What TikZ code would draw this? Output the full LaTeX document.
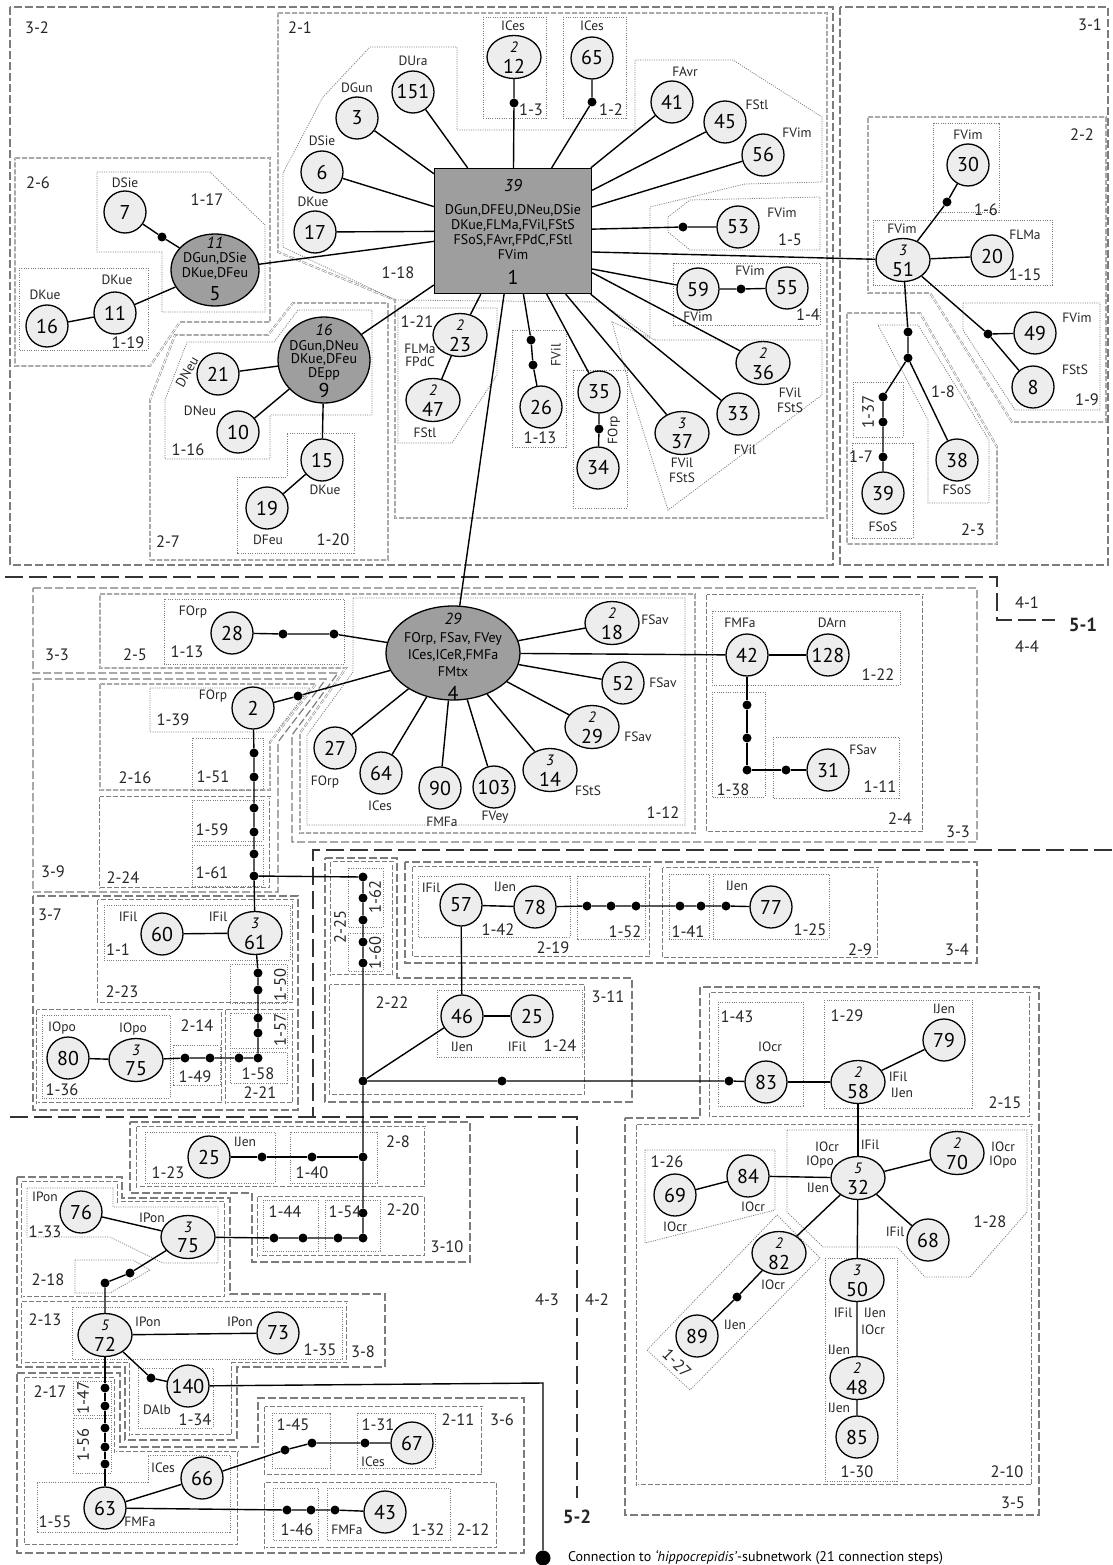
\documentclass[tikz,border=0pt]{standalone}
\usepackage{fontspec}
\setmainfont{PT Sans}
\usetikzlibrary{shapes.geometric,calc}
\definecolor{lightfill}{HTML}{EDEDED}
\definecolor{darkfill}{HTML}{9E9E9E}
\definecolor{regline}{HTML}{7C7C7C}
\newcommand\numf{\fontsize{20}{20}\selectfont}
\newcommand\labf{\fontsize{13.5}{14}\selectfont}
\newcommand\regf{\fontsize{16.5}{16}\selectfont}
\newcommand\smit{\fontsize{15}{15}\selectfont\itshape}
\newcommand\mycirc[3]{\node[circ] (#1) at (#2) {#3};}
\newcommand\myell[4]{\node[ell] (#1) at (#2) {};\node[font=\smit,inner sep=0pt] (#1s) at ([yshift=10pt]#1.center) {#3};\node[font=\numf,inner sep=0pt] (#1b) at ([yshift=-9pt]#1.center) {#4};}
\newcommand\lab[3]{\node[lab] (#1) at (#2) {#3};}
\newcommand\reg[3]{\node[reg] (#1) at (#2) {#3};}
\newcommand\dt[2]{\node[dot] (#1) at (#2) {};}
\tikzset{
 circ/.style={circle,draw,fill=lightfill,minimum size=42pt,inner sep=0pt,line width=1.3pt,font=\numf},
 ell/.style={ellipse,draw,fill=lightfill,minimum width=54pt,minimum height=43pt,inner sep=0pt,line width=1.3pt},
 bigell/.style={ellipse,draw,fill=darkfill,inner sep=0pt,line width=1.3pt},
 bigrect/.style={rectangle,draw,fill=darkfill,minimum width=157pt,minimum height=125pt,line width=1.3pt},
 dot/.style={circle,fill=black,inner sep=0pt,minimum size=9pt},
 bigdot/.style={circle,fill=black,inner sep=0pt,minimum size=15pt},
 lab/.style={font=\labf,inner sep=0pt,text=black!85},
 reg/.style={font=\regf,inner sep=0pt,text=black!85},
 conn/.style={line width=1.4pt,black},
 lvthree/.style={draw=regline,line width=1.2pt,dash pattern=on 8pt off 3pt},
 lvtwo/.style={draw=regline,line width=0.5pt,double=white,double distance=0.9pt,dash pattern=on 5pt off 2pt},
 lvone/.style={draw=regline,line width=0.8pt,dash pattern=on 1pt off 1.3pt},
 lvfour/.style={draw=black!80,line width=2.6pt,dash pattern=on 18pt off 6pt}
}
\begin{document}
\begin{tikzpicture}[x=1pt,y=-1pt]
\fill[white] (0,0) rectangle (1112,1565);
\useasboundingbox (0,0) rectangle (1112,1565);

% ---------------- level 3 regions
\draw[lvthree] (10,7) rectangle (833,565);
\draw[lvthree] (840,7) rectangle (1108,565);
\draw[lvthree] (33,588) -- (977,588) -- (977,842) -- (292,842) -- (292,735) -- (338,673) -- (33,673) -- cycle;
\draw[lvthree] (33,679) -- (326,679) -- (278,742) -- (278,892) -- (33,892) -- cycle;
\draw[lvthree] (33,896) rectangle (298,1110);
\draw[lvthree] (325,858) -- (397,858) -- (397,978) -- (632,978) -- (632,1102) -- (325,1102) -- cycle;
\draw[lvthree] (405,862) rectangle (977,963);
\draw[lvthree] (625,1118) -- (700,1118) -- (700,987) -- (1039,987) -- (1039,1515) -- (625,1515) -- cycle;
\draw[lvthree] (130,1122) -- (470,1122) -- (470,1262) -- (252,1262) -- (252,1193) -- (130,1193) -- cycle;
\draw[lvthree] (17,1177) -- (122,1177) -- (122,1198) -- (230,1198) -- (230,1294) -- (385,1294) -- (385,1367) -- (237,1367) -- (237,1440) -- (125,1440) -- (125,1367) -- (17,1367) -- cycle;
\draw[lvthree] (17,1373) -- (120,1373) -- (120,1447) -- (258,1447) -- (258,1398) -- (524,1398) -- (524,1553) -- (17,1553) -- cycle;

% ---------------- level 2 regions
\draw[lvtwo] (278,13) -- (827,13) -- (827,518) -- (395,518) -- (395,300) -- (278,252) -- cycle;
\draw[lvtwo] (15,158) -- (270,158) -- (270,322) -- (180,322) -- (150,366) -- (15,366) -- cycle;
\draw[lvtwo] (150,560) -- (388,560) -- (388,303) -- (293,303) -- (268,335) -- (175,335) -- (150,400) -- cycle;
\draw[lvtwo] (868,117) -- (1106,117) -- (1106,422) -- (1012,422) -- (930,293) -- (868,293) -- cycle;
\draw[lvtwo] (847,313) -- (920,313) -- (997,447) -- (997,544) -- (847,544) -- cycle;
\draw[lvtwo] (100,594) -- (695,594) -- (695,833) -- (300,833) -- (300,733) -- (346,668) -- (100,668) -- cycle;
\draw[lvtwo] (707,595) rectangle (923,832);
\draw[lvtwo] (100,684) -- (316,684) -- (270,742) -- (270,790) -- (100,790) -- cycle;
\draw[lvtwo] (100,797) rectangle (270,888);
\draw[lvtwo] (98,900) rectangle (293,1003);
\draw[lvtwo] (37,1010) rectangle (222,1103);
\draw[lvtwo] (226,1010) rectangle (293,1103);
\draw[lvtwo] (331,862) rectangle (393,975);
\draw[lvtwo] (330,985) rectangle (585,1095);
\draw[lvtwo] (413,867) rectangle (650,957);
\draw[lvtwo] (663,868) rectangle (878,958);
\draw[lvtwo] (710,993) rectangle (1030,1117);
\draw[lvtwo] (637,1125) rectangle (1032,1485);
\draw[lvtwo] (137,1127) rectangle (425,1187);
\draw[lvtwo] (258,1197) rectangle (425,1256);
\draw[lvtwo] (22,1182) -- (118,1182) -- (118,1202) -- (225,1202) -- (225,1297) -- (22,1297) -- cycle;
\draw[lvtwo] (22,1302) -- (347,1302) -- (347,1363) -- (232,1363) -- (232,1435) -- (130,1435) -- (130,1363) -- (22,1363) -- cycle;
\draw[lvtwo] (25,1378) -- (115,1378) -- (115,1452) -- (238,1452) -- (238,1545) -- (25,1545) -- cycle;
\draw[lvtwo] (265,1407) rectangle (482,1475);
\draw[lvtwo] (265,1483) rectangle (497,1548);

% ---------------- level 1 regions
\draw[lvone] (97,172) -- (210,172) -- (265,225) -- (265,312) -- (162,312) -- (162,252) -- (97,252) -- cycle;
\draw[lvone] (19,268) rectangle (148,350);
\draw[lvone] (165,459) -- (270,459) -- (270,415) -- (372,415) -- (372,310) -- (298,310) -- (274,342) -- (187,342) -- (165,400) -- cycle;
\draw[lvone] (237,477) -- (287,477) -- (287,433) -- (354,433) -- (354,553) -- (237,553) -- cycle;
\draw[lvone] (483,17) rectangle (546,118);
\draw[lvone] (563,17) rectangle (626,118);
\draw[lvone] (370,47) -- (457,47) -- (457,130) -- (635,130) -- (635,60) -- (733,60) -- (822,117) -- (822,182) -- (745,184) -- (650,207) -- (650,337) -- (600,302) -- (395,300) -- (283,247) -- (283,173) -- (323,97) -- cycle;
\draw[lvone] (668,217) -- (690,200) -- (820,197) -- (820,250) -- (690,250) -- (668,232) -- cycle;
\draw[lvone] (673,263) rectangle (820,325);
\draw[lvone] (655,340) -- (822,340) -- (822,395) -- (668,510) -- (632,395) -- (612,322) -- cycle;
\draw[lvone] (573,370) rectangle (627,508);
\draw[lvone] (512,330) rectangle (566,447);
\draw[lvone] (398,308) -- (497,308) -- (497,375) -- (452,443) -- (398,443) -- cycle;
\draw[lvone] (933,123) rectangle (999,212);
\draw[lvone] (873,220) rectangle (1052,285);
\draw[lvone] (963,303) -- (1100,303) -- (1100,410) -- (1015,410) -- (963,330) -- cycle;
\draw[lvone] (878,325) -- (918,325) -- (989,440) -- (989,503) -- (928,503) -- (928,420) -- cycle;
\draw[lvone] (853,382) rectangle (903,437);
\draw[lvone] (852,443) rectangle (913,538);
\draw[lvone] (164,599) rectangle (344,664);
\draw[lvone] (353,598) -- (685,598) -- (685,825) -- (307,825) -- (307,735) -- (353,672) -- cycle;
\draw[lvone] (712,611) rectangle (900,685);
\draw[lvone] (712,692) rectangle (765,797);
\draw[lvone] (773,737) rectangle (899,798);
\draw[lvone] (150,688) -- (310,688) -- (276,732) -- (150,732) -- cycle;
\draw[lvone] (192,738) rectangle (263,790);
\draw[lvone] (192,800) rectangle (263,841);
\draw[lvone] (192,845) rectangle (263,886);
\draw[lvone] (104,905) rectangle (290,960);
\draw[lvone] (230,964) rectangle (287,1003);
\draw[lvone] (42,1015) rectangle (170,1098);
\draw[lvone] (173,1045) rectangle (220,1085);
\draw[lvone] (230,1013) rectangle (287,1048);
\draw[lvone] (230,1052) rectangle (287,1083);
\draw[lvone] (348,868) rectangle (383,927);
\draw[lvone] (348,933) rectangle (383,971);
\draw[lvone] (437,990) rectangle (582,1057);
\draw[lvone] (418,876) rectangle (570,937);
\draw[lvone] (577,876) rectangle (645,939);
\draw[lvone] (669,874) rectangle (709,939);
\draw[lvone] (713,874) rectangle (829,939);
\draw[lvone] (718,1002) rectangle (803,1106);
\draw[lvone] (824,1000) rectangle (972,1108);
\draw[lvone] (787,1130) -- (1027,1130) -- (1027,1212) -- (970,1277) -- (925,1277) -- (897,1247) -- (823,1247) -- (787,1212) -- cycle;
\draw[lvone] (645,1150) -- (775,1150) -- (775,1210) -- (645,1243) -- cycle;
\draw[lvone] (777,1215) -- (820,1258) -- (690,1390) -- (647,1350) -- cycle;
\draw[lvone] (825,1258) rectangle (897,1481);
\draw[lvone] (145,1132) rectangle (275,1183);
\draw[lvone] (290,1132) rectangle (377,1183);
\draw[lvone] (263,1200) rectangle (318,1251);
\draw[lvone] (325,1200) rectangle (380,1251);
\draw[lvone] (27,1188) -- (113,1188) -- (113,1207) -- (218,1207) -- (218,1263) -- (163,1263) -- (110,1237) -- (27,1237) -- cycle;
\draw[lvone] (75,1260) -- (133,1260) -- (150,1270) -- (110,1293) -- (75,1293) -- cycle;
\draw[lvone] (72,1307) rectangle (342,1359);
\draw[lvone] (138,1368) rectangle (213,1428);
\draw[lvone] (73,1381) rectangle (111,1415);
\draw[lvone] (73,1418) rectangle (111,1473);
\draw[lvone] (37,1482) -- (148,1482) -- (148,1455) -- (230,1455) -- (230,1532) -- (37,1532) -- cycle;
\draw[lvone] (272,1413) rectangle (330,1468);
\draw[lvone] (357,1413) rectangle (435,1468);
\draw[lvone] (273,1488) rectangle (318,1540);
\draw[lvone] (327,1488) rectangle (450,1540);

% ---------------- level 4 dividers
\draw[lvfour] (5,577) -- (997,577) -- (997,620) -- (1055,620);
\draw[lvfour] (1112,850) -- (313,850) -- (313,1117);
\draw[lvfour] (10,1117) -- (577,1117) -- (577,1498);

% ---------------- nodes: top
\node[bigrect] (n1) at (513,231) {};
\node[font=\fontsize{17}{17}\selectfont\itshape,inner sep=0pt] (n1a) at (513,186) {39};
\node[font=\fontsize{14}{15}\selectfont,align=center,inner sep=0pt] (n1b) at (513,232) {DGun,DFEU,DNeu,DSie\\DKue,FLMa,FVil,FStS\\FSoS,FAvr,FPdC,FStl\\FVim};
\node[font=\numf,inner sep=0pt] (n1c) at (513,277) {1};

\node[bigell,minimum width=88pt,minimum height=72pt] (n5) at (215,270) {};
\node[font=\fontsize{16}{16}\selectfont\itshape,inner sep=0pt] (n5a) at (215,243) {11};
\node[font=\fontsize{14}{15}\selectfont,align=center,inner sep=0pt] (n5b) at (215,266) {DGun,DSie\\DKue,DFeu};
\node[font=\numf,inner sep=0pt] (n5c) at (215,294) {5};

\node[bigell,minimum width=92pt,minimum height=86pt] (n9) at (324,360) {};
\node[font=\fontsize{16}{16}\selectfont\itshape,inner sep=0pt] (n9a) at (324,330) {16};
\node[font=\fontsize{14}{13.5}\selectfont,align=center,inner sep=0pt] (n9b) at (324,360) {DGun,DNeu\\DKue,DFeu\\DEpp};
\node[font=\numf,inner sep=0pt] (n9c) at (324,390) {9};

\mycirc{n3}{357,118}{3}
\mycirc{n6}{322,172}{6}
\mycirc{n17}{315,232}{17}
\mycirc{n151}{413,92}{151}
\myell{n12}{514,57}{2}{12}
\mycirc{n65}{592,58}{65}
\mycirc{n41}{672,102}{41}
\mycirc{n45}{725,122}{45}
\mycirc{n56}{763,155}{56}
\mycirc{n53}{738,227}{53}
\mycirc{n59}{698,289}{59}
\mycirc{n55}{787,288}{55}
\myell{n36}{763,363}{2}{36}
\mycirc{n33}{738,414}{33}
\myell{n37}{682,433}{3}{37}
\mycirc{n35}{599,392}{35}
\mycirc{n34}{598,468}{34}
\mycirc{n26}{541,407}{26}
\myell{n23}{460,335}{2}{23}
\myell{n47}{433,400}{2}{47}
\mycirc{n7}{125,212}{7}
\mycirc{n11}{115,313}{11}
\mycirc{n16}{47,326}{16}
\mycirc{n21}{218,374}{21}
\mycirc{n10}{238,432}{10}
\mycirc{n15}{322,460}{15}
\mycirc{n19}{267,508}{19}
\myell{n51}{903,260}{3}{51}
\mycirc{n30}{968,165}{30}
\mycirc{n20}{992,256}{20}
\mycirc{n49}{1035,333}{49}
\mycirc{n8}{1033,387}{8}
\mycirc{n38}{957,460}{38}
\mycirc{n39}{883,493}{39}

\dt{d12}{514,103} \dt{d65}{592,102} \dt{d53}{683,227} \dt{d55}{741,289}
\dt{d35}{599,429} \dt{d26a}{531,340} \dt{d26b}{533,365} \dt{d7}{162,237}
\dt{d30}{947,202} \dt{d49}{988,334} \dt{d51a}{908,332} \dt{d51b}{908,358}
\dt{d39a}{883,397} \dt{d39b}{883,422} \dt{d39c}{883,457}

% ---------------- nodes: middle
\node[bigell,minimum width=134pt,minimum height=94pt] (n4) at (453,653) {};
\node[font=\fontsize{16}{16}\selectfont\itshape,inner sep=0pt] (n4a) at (453,619) {29};
\node[font=\fontsize{14}{17}\selectfont,align=center,inner sep=0pt] (n4b) at (453,655) {FOrp, FSav, FVey\\ICes,ICeR,FMFa\\FMtx};
\node[font=\numf,inner sep=0pt] (n4c) at (453,693) {4};

\mycirc{n28}{232,633}{28}
\mycirc{n2}{253,708}{2}
\mycirc{n27}{335,748}{27}
\mycirc{n64}{381,773}{64}
\mycirc{n90}{440,788}{90}
\mycirc{n103}{494,787}{103}
\myell{n14}{550,770}{3}{14}
\myell{n29}{592,727}{2}{29}
\mycirc{n52}{623,683}{52}
\myell{n18}{612,623}{2}{18}
\mycirc{n42}{747,655}{42}
\mycirc{n128}{828,655}{128}
\mycirc{n31}{828,770}{31}
\myell{n61}{255,933}{3}{61}
\mycirc{n60}{162,934}{60}
\myell{n75a}{136,1060}{3}{75}
\mycirc{n80}{68,1058}{80}
\mycirc{n57}{461,905}{57}
\mycirc{n78}{535,907}{78}
\mycirc{n77}{771,907}{77}
\mycirc{n46}{462,1016}{46}
\mycirc{n25a}{532,1016}{25}

\dt{d28a}{283,634} \dt{d28b}{334,634} \dt{d2}{298,696}
\dt{d42a}{747,705} \dt{d42b}{747,738} \dt{d42c}{747,770} \dt{d31}{786,770}
\dt{e1}{254,753} \dt{e2}{254,777} \dt{e3}{254,808} \dt{e4}{254,832} \dt{e5}{254,854} \dt{e6}{254,876}
\dt{g0}{363,877} \dt{g1}{363,898} \dt{g2}{363,920} \dt{g3}{363,942} \dt{g4}{363,963}
\dt{g5}{363,1081} \dt{g6}{363,1157} \dt{g7}{363,1213} \dt{g8}{363,1238}
\dt{f1}{258,973} \dt{f2}{258,990} \dt{f3}{258,1018} \dt{f4}{258,1033} \dt{f5}{258,1058}
\dt{f6}{239,1058} \dt{f7}{210,1058} \dt{f8}{185,1058}
\dt{h1}{587,906} \dt{h2}{611,906} \dt{h3}{636,906} \dt{h4}{680,906} \dt{h5}{701,906} \dt{h6}{726,906}
\dt{k1}{502,1081} \dt{k2}{729,1081}

% ---------------- nodes: right
\mycirc{n83}{766,1082}{83}
\myell{n58}{858,1082}{2}{58}
\mycirc{n79}{944,1040}{79}
\myell{n32}{858,1178}{5}{32}
\myell{n70}{957,1153}{2}{70}
\mycirc{n68}{928,1240}{68}
\mycirc{n84}{748,1176}{84}
\mycirc{n69}{675,1195}{69}
\myell{n82}{779,1253}{2}{82}
\mycirc{n89}{697,1336}{89}
\myell{n50}{857,1280}{3}{50}
\myell{n48}{857,1378}{2}{48}
\mycirc{n85}{857,1437}{85}
\dt{d89}{737,1297}

% ---------------- nodes: bottom left
\mycirc{n25b}{209,1157}{25}
\myell{n75b}{188,1237}{3}{75}
\mycirc{n76}{81,1212}{76}
\myell{n72}{105,1335}{5}{72}
\mycirc{n73}{278,1333}{73}
\mycirc{n140}{188,1386}{140}
\mycirc{n63}{105,1508}{63}
\mycirc{n66}{202,1478}{66}
\mycirc{n67}{412,1443}{67}
\mycirc{n43}{385,1512}{43}
\dt{m1}{312,1157} \dt{m2}{262,1157} \dt{m3}{338,1238} \dt{m4}{303,1238} \dt{m5}{274,1238}
\dt{m6}{130,1273} \dt{m7}{105,1283} \dt{m8}{151,1378}
\dt{p1}{105,1388} \dt{p2}{105,1406} \dt{p3}{105,1428} \dt{p4}{105,1447} \dt{p5}{105,1464}
\dt{q1}{285,1450} \dt{q2}{312,1443} \dt{q3}{365,1443}
\dt{r1}{287,1510} \dt{r2}{311,1510} \dt{r3}{335,1510}
\coordinate (c140) at (543,1383);
\node[bigdot] (zend) at (543,1558) {};

% ---------------- connectors: top
\draw[conn] (n1) -- (n3);
\draw[conn] (n1) -- (n6);
\draw[conn] (n1) -- (n17);
\draw[conn] (n1) -- (n151);
\draw[conn] (n1) -- (d12) -- (n12);
\draw[conn] (n1) -- (d65) -- (n65);
\draw[conn] (n1) -- (n41);
\draw[conn] (n1) -- (n45);
\draw[conn] (n1) -- (n56);
\draw[conn] (n1) -- (d53) -- (n53);
\draw[conn] ([yshift=-21pt]n1.east) -- (n51);
\draw[conn] ([yshift=-38pt]n1.east) -- (n59);
\draw[conn] (n59) -- (d55) -- (n55);
\draw[conn] (n1) -- (n36);
\draw[conn] (n1) -- (n33);
\draw[conn] (n1) -- (n37);
\draw[conn] (n1) -- (n35);
\draw[conn] (n35) -- (d35) -- (n34);
\draw[conn] (n1) -- (d26a) -- (d26b) -- (n26);
\draw[conn] (n1) -- (n23);
\draw[conn] (n23) -- (n47);
\draw[conn] (n1) -- (n5);
\draw[conn] (n1) -- (n9);
\draw[conn] (n1) -- (n4);
\draw[conn] (n5) -- (d7) -- (n7);
\draw[conn] (n5) -- (n11) -- (n16);
\draw[conn] (n9) -- (n21);
\draw[conn] (n9) -- (n10);
\draw[conn] (n9) -- (n15) -- (n19);
\draw[conn] (n51) -- (d30) -- (n30);
\draw[conn] (n51) -- (n20);
\draw[conn] (n51) -- (d49) -- (n8);
\draw[conn] (d49) -- (n49);
\draw[conn] (n51) -- (d51a) -- (d51b) -- (d39a) -- (d39b) -- (d39c) -- (n39);
\draw[conn] (d51b) -- (n38);

% ---------------- connectors: middle
\draw[conn] (n4) -- (d28b) -- (d28a) -- (n28);
\draw[conn] (n4) -- (d2) -- (n2);
\draw[conn] (n4) -- (n27);
\draw[conn] (n4) -- (n64);
\draw[conn] (n4) -- (n90);
\draw[conn] (n4) -- (n103);
\draw[conn] (n4) -- (n14);
\draw[conn] (n4) -- (n29);
\draw[conn] (n4) -- (n52);
\draw[conn] (n4) -- (n18);
\draw[conn] (n4) -- (n42);
\draw[conn] (n42) -- (n128);
\draw[conn] (n42) -- (d42a) -- (d42b) -- (d42c) -- (d31) -- (n31);
\draw[conn] (n2) -- (e1) -- (e2) -- (e3) -- (e4) -- (e5) -- (e6) -- (n61);
\draw[conn] (e6) -- (g0) -- (g1) -- (g2) -- (g3) -- (g4) -- (g5) -- (g6) -- (g7) -- (g8);
\draw[conn] (n61) -- (n60);
\draw[conn] (n61) -- (f1) -- (f2) -- (f3) -- (f4) -- (f5) -- (f6) -- (f7) -- (f8) -- (n75a);
\draw[conn] (n75a) -- (n80);
\draw[conn] (g5) -- (n46);
\draw[conn] (n46) -- (n57);
\draw[conn] (n46) -- (n25a);
\draw[conn] (n57) -- (n78) -- (h1) -- (h2) -- (h3) -- (h4) -- (h5) -- (h6) -- (n77);
\draw[conn] (g5) -- (k1) -- (k2) -- (n83);

% ---------------- connectors: right
\draw[conn] (n83) -- (n58);
\draw[conn] (n58) -- (n79);
\draw[conn] (n58) -- (n32);
\draw[conn] (n32) -- (n70);
\draw[conn] (n32) -- (n68);
\draw[conn] (n32) -- (n84) -- (n69);
\draw[conn] (n32) -- (n82) -- (d89) -- (n89);
\draw[conn] (n32) -- (n50) -- (n48) -- (n85);

% ---------------- connectors: bottom left
\draw[conn] (g6) -- (m1) -- (m2) -- (n25b);
\draw[conn] (g8) -- (m3) -- (m4) -- (m5) -- (n75b);
\draw[conn] (n75b) -- (n76);
\draw[conn] (n75b) -- (m6) -- (m7) -- (n72);
\draw[conn] (n72) -- (n73);
\draw[conn] (n72) -- (m8) -- (n140);
\draw[conn] (n72) -- (p1) -- (p2) -- (p3) -- (p4) -- (p5) -- (n63);
\draw[conn] (n63) -- (n66) -- (q1) -- (q2) -- (q3) -- (n67);
\draw[conn] (n63) -- (r1) -- (r2) -- (r3) -- (n43);
\draw[conn] (n140) -- (c140) -- (zend);

% ---------------- labels: top
\reg{ra1}{37,28}{3-2} \reg{ra2}{300,28}{2-1} \reg{ra3}{38,183}{2-6} \reg{ra4}{207,200}{1-17}
\reg{ra5}{128,343}{1-19} \reg{ra6}{188,450}{1-16} \reg{ra7}{333,540}{1-20} \reg{ra8}{168,542}{2-7}
\reg{ra9}{398,273}{1-18} \reg{ra10}{531,110}{1-3} \reg{ra11}{611,110}{1-2} \reg{ra12}{790,240}{1-5}
\reg{ra13}{808,315}{1-4} \reg{ra14}{417,322}{1-21} \reg{ra15}{540,438}{1-13} \reg{ra16}{1090,25}{3-1}
\reg{ra17}{1082,135}{2-2} \reg{ra18}{986,210}{1-6} \reg{ra19}{1025,275}{1-15} \reg{ra20}{1087,400}{1-9}
\reg{ra21}{943,392}{1-8} \reg{ra22}{861,457}{1-7} \node[reg,rotate=90] (ra23) at (868,412) {1-37};
\reg{ra24}{973,530}{2-3}

\lab{la1}{357,88}{DGun} \lab{la2}{322,141}{DSie} \lab{la3}{313,202}{DKue} \lab{la4}{413,61}{DUra}
\lab{la5}{513,26}{ICes} \lab{la6}{592,26}{ICes} \lab{la7}{685,72}{FAvr} \lab{la8}{757,105}{FStl}
\lab{la9}{797,133}{FVim} \lab{la10}{782,213}{FVim} \lab{la11}{750,271}{FVim} \lab{la12}{698,317}{FVim}
\lab{la13}{790,393}{FVil} \lab{la14}{790,408}{FStS} \lab{la15}{745,450}{FVil} \lab{la16}{682,463}{FVil}
\lab{la17}{682,478}{FStS} \node[lab,rotate=90] (la18) at (614,430) {FOrp};
\node[lab,rotate=90] (la19) at (556,355) {FVil}; \lab{la20}{420,349}{FLMa} \lab{la21}{420,362}{FPdC}
\lab{la22}{425,433}{FStl} \lab{la23}{125,183}{DSie} \lab{la24}{117,280}{DKue} \lab{la25}{45,295}{DKue}
\node[lab,rotate=60] (la26) at (187,372) {DNeu}; \lab{la27}{200,411}{DNeu} \lab{la28}{325,490}{DKue}
\lab{la29}{268,540}{DFeu} \lab{la30}{902,229}{FVim} \lab{la31}{968,135}{FVim} \lab{la32}{1025,235}{FLMa}
\lab{la33}{1077,318}{FVim} \lab{la34}{1075,370}{FStS} \lab{la35}{957,490}{FSoS} \lab{la36}{883,527}{FSoS}

% ---------------- labels: middle
\reg{rb1}{57,655}{3-3} \reg{rb2}{135,655}{2-5} \reg{rb3}{187,652}{1-13} \reg{rb4}{173,720}{1-39}
\reg{rb5}{135,778}{2-16} \reg{rb6}{213,777}{1-51} \reg{rb7}{663,813}{1-12} \reg{rb8}{878,675}{1-22}
\reg{rb9}{733,790}{1-38} \reg{rb10}{880,787}{1-11} \reg{rb11}{900,819}{2-4} \reg{rb12}{958,832}{3-3}
\reg{rb13}{1027,603}{4-1} \reg{rb14}{1027,647}{4-4}
\node[reg,font=\fontsize{19}{19}\selectfont\bfseries] (rb15) at (1083,625) {5-1};
\reg{rb16}{53,872}{3-9} \reg{rb17}{123,878}{2-24} \reg{rb18}{212,830}{1-59} \reg{rb19}{212,873}{1-61}
\reg{rb20}{50,915}{3-7} \reg{rb21}{118,950}{1-1} \reg{rb22}{122,992}{2-23}
\node[reg,rotate=90] (rb23) at (280,985) {1-50}; \node[reg,rotate=90] (rb24) at (280,1030) {1-57};
\reg{rb25}{258,1074}{1-58} \reg{rb26}{260,1093}{2-21} \reg{rb27}{197,1026}{2-14} \reg{rb28}{62,1090}{1-36}
\reg{rb29}{195,1077}{1-49} \node[reg,rotate=90] (rb30) at (340,927) {2-25};
\node[reg,rotate=90] (rb31) at (375,897) {1-62}; \node[reg,rotate=90] (rb32) at (375,953) {1-60};
\reg{rb33}{498,930}{1-42} \reg{rb34}{553,948}{2-19} \reg{rb35}{625,932}{1-52} \reg{rb36}{688,932}{1-41}
\reg{rb37}{810,930}{1-25} \reg{rb38}{860,950}{2-9} \reg{rb39}{957,950}{3-4} \reg{rb40}{392,1003}{2-22}
\reg{rb41}{560,1046}{1-24} \reg{rb42}{608,997}{3-11}

\lab{lb1}{193,612}{FOrp} \lab{lb2}{213,696}{FOrp} \lab{lb3}{325,782}{FOrp} \lab{lb4}{380,806}{ICes}
\lab{lb5}{442,822}{FMFa} \lab{lb6}{495,817}{FVey} \lab{lb7}{588,791}{FStS} \lab{lb8}{638,737}{FSav}
\lab{lb9}{663,683}{FSav} \lab{lb10}{655,620}{FSav} \lab{lb11}{740,623}{FMFa} \lab{lb12}{832,623}{DArn}
\lab{lb13}{863,750}{FSav} \lab{lb14}{218,917}{IFil} \lab{lb15}{128,917}{IFil} \lab{lb16}{133,1029}{IOpo}
\lab{lb17}{62,1028}{IOpo} \lab{lb18}{431,888}{IFil} \lab{lb19}{505,887}{IJen} \lab{lb20}{737,886}{IJen}
\lab{lb21}{462,1047}{IJen} \lab{lb22}{517,1047}{IFil}

% ---------------- labels: right
\reg{rc1}{737,1017}{1-43} \reg{rc2}{847,1016}{1-29} \reg{rc3}{1005,1103}{2-15} \reg{rc4}{667,1162}{1-26}
\reg{rc5}{990,1222}{1-28} \node[reg,rotate=-45] (rc6) at (677,1363) {1-27};
\reg{rc7}{857,1472}{1-30} \reg{rc8}{1007,1472}{2-10} \reg{rc9}{1013,1503}{3-5}
\reg{rc10}{547,1300}{4-3} \reg{rc11}{597,1300}{4-2}
\node[reg,font=\fontsize{19}{19}\selectfont\bfseries] (rc12) at (577,1517) {5-2};

\lab{lc1}{770,1047}{IOcr} \lab{lc2}{898,1077}{IFil} \lab{lc3}{902,1093}{IJen} \lab{lc4}{944,1009}{IJen}
\lab{lc5}{827,1147}{IOcr} \lab{lc6}{820,1162}{IOpo} \lab{lc7}{870,1145}{IFil} \lab{lc8}{818,1188}{IJen}
\lab{lc9}{1003,1147}{IOcr} \lab{lc10}{1003,1162}{IOpo} \lab{lc11}{895,1232}{IFil} \lab{lc12}{753,1207}{IOcr}
\lab{lc13}{675,1227}{IOcr} \lab{lc14}{773,1285}{IOcr} \lab{lc15}{735,1325}{IJen} \lab{lc16}{843,1313}{IFil}
\lab{lc17}{875,1313}{IJen} \lab{lc18}{873,1330}{IOcr} \lab{lc19}{839,1350}{IJen} \lab{lc20}{839,1408}{IJen}

% ---------------- labels: bottom left
\reg{rd1}{398,1142}{2-8} \reg{rd2}{168,1173}{1-23} \reg{rd3}{312,1173}{1-40} \reg{rd4}{285,1212}{1-44}
\reg{rd5}{345,1212}{1-54} \reg{rd6}{403,1210}{2-20} \reg{rd7}{447,1247}{3-10} \reg{rd8}{45,1232}{1-33}
\reg{rd9}{48,1280}{2-18} \reg{rd10}{45,1320}{2-13} \reg{rd11}{320,1350}{1-35} \reg{rd12}{363,1352}{3-8}
\reg{rd13}{195,1420}{1-34} \reg{rd14}{50,1392}{2-17} \node[reg,rotate=90] (rd15) at (83,1398) {1-47};
\node[reg,rotate=90] (rd16) at (83,1445) {1-56}; \reg{rd17}{55,1522}{1-55} \reg{rd18}{293,1425}{1-45}
\reg{rd19}{378,1425}{1-31} \reg{rd20}{458,1420}{2-11} \reg{rd21}{502,1420}{3-6} \reg{rd22}{297,1530}{1-46}
\reg{rd23}{428,1530}{1-32} \reg{rd24}{473,1530}{2-12}

\lab{ld1}{245,1142}{IJen} \lab{ld2}{45,1197}{IPon} \lab{ld3}{152,1218}{IPon} \lab{ld4}{148,1322}{IPon}
\lab{ld5}{240,1322}{IPon} \lab{ld6}{157,1410}{DAlb} \lab{ld7}{163,1468}{ICes} \lab{ld8}{373,1462}{ICes}
\lab{ld9}{140,1522}{FMFa} \lab{ld10}{347,1530}{FMFa}

\node[font=\fontsize{14}{14}\selectfont,anchor=west,inner sep=0pt] (caption) at (568,1558) {Connection to \textit{‘hippocrepidis’}-subnetwork (21 connection steps)};
\end{tikzpicture}
\end{document}
